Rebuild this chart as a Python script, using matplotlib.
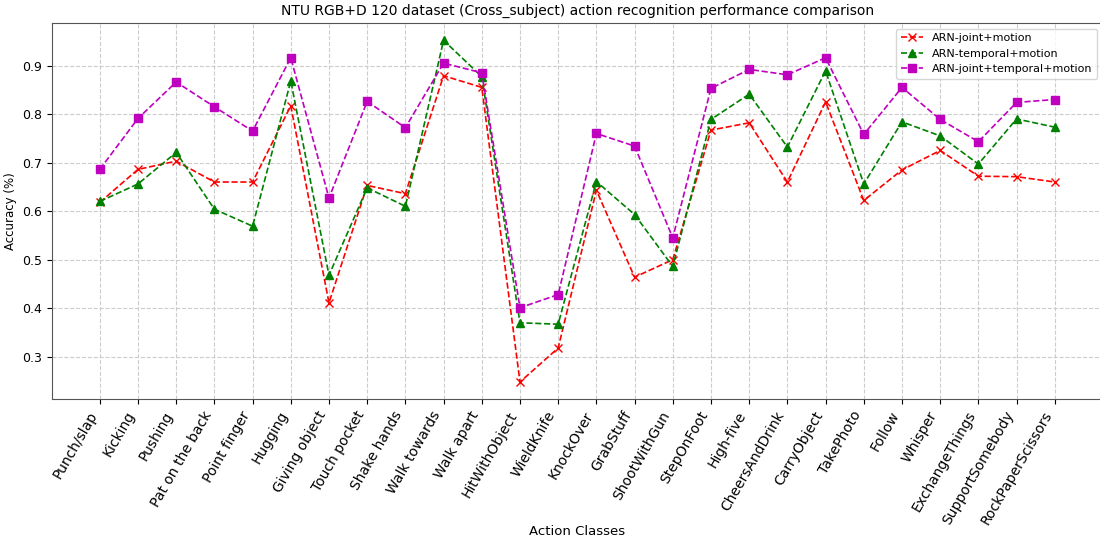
import matplotlib
matplotlib.use("Agg")
import matplotlib.pyplot as plt

classes = [
    "Punch/slap", "Kicking", "Pushing", "Pat on the back", "Point finger",
    "Hugging", "Giving object", "Touch pocket", "Shake hands", "Walk towards",
    "Walk apart", "HitWithObject", "WieldKnife", "KnockOver", "GrabStuff",
    "ShootWithGun", "StepOnFoot", "High-five", "CheersAndDrink", "CarryObject",
    "TakePhoto", "Follow", "Whisper", "ExchangeThings", "SupportSomebody",
    "RockPaperScissors",
]

joint_motion = [
    0.618, 0.686, 0.703, 0.660, 0.660, 0.817, 0.411, 0.653, 0.636, 0.879,
    0.855, 0.248, 0.318, 0.643, 0.464, 0.500, 0.767, 0.782, 0.660, 0.825,
    0.622, 0.685, 0.725, 0.672, 0.671, 0.660,
]

temporal_motion = [
    0.620, 0.656, 0.721, 0.604, 0.569, 0.868, 0.468, 0.648, 0.610, 0.952,
    0.877, 0.370, 0.367, 0.661, 0.593, 0.486, 0.789, 0.841, 0.732, 0.889,
    0.656, 0.784, 0.755, 0.697, 0.790, 0.773,
]

joint_temporal_motion = [
    0.686, 0.791, 0.866, 0.815, 0.765, 0.916, 0.627, 0.826, 0.772, 0.905,
    0.885, 0.401, 0.428, 0.760, 0.734, 0.545, 0.853, 0.892, 0.881, 0.916,
    0.758, 0.855, 0.789, 0.743, 0.824, 0.830,
]

series_labels = ["ARN-joint+motion", "ARN-temporal+motion", "ARN-joint+temporal+motion"]

fig = plt.figure(figsize=(11, 5.4), dpi=100)
ax = fig.add_axes([0.0473, 0.261, 0.955, 0.696])

x = list(range(len(classes)))
ax.plot(x, joint_motion, linestyle="--", color="red", marker="x",
        markersize=6, linewidth=1.2, label=series_labels[0])
ax.plot(x, temporal_motion, linestyle="--", color="green", marker="^",
        markersize=6, linewidth=1.2, label=series_labels[1])
ax.plot(x, joint_temporal_motion, linestyle="--", color="m", marker="s",
        markersize=6, linewidth=1.2, label=series_labels[2])

ax.set_xticks(x)
ax.set_xticklabels(classes, rotation=60, ha="right", fontsize=10)
ax.tick_params(axis="y", labelsize=9)
ax.set_yticks([0.3, 0.4, 0.5, 0.6, 0.7, 0.8, 0.9])
ax.grid(True, linestyle="--", color="#cccccc", linewidth=0.8)

ax.set_title("NTU RGB+D 120 dataset (Cross_subject) action recognition performance comparison",
             fontsize=10)
ax.set_ylabel("Accuracy (%)", fontsize=8.5)
ax.set_xlabel("Action Classes", fontsize=9.5)
ax.xaxis.set_label_coords(0.5, -0.335)

for s in ax.spines.values():
    s.set_color("#555555")

ax.legend(loc="upper right", fontsize=8)

fig.savefig("out.png", dpi=100)
